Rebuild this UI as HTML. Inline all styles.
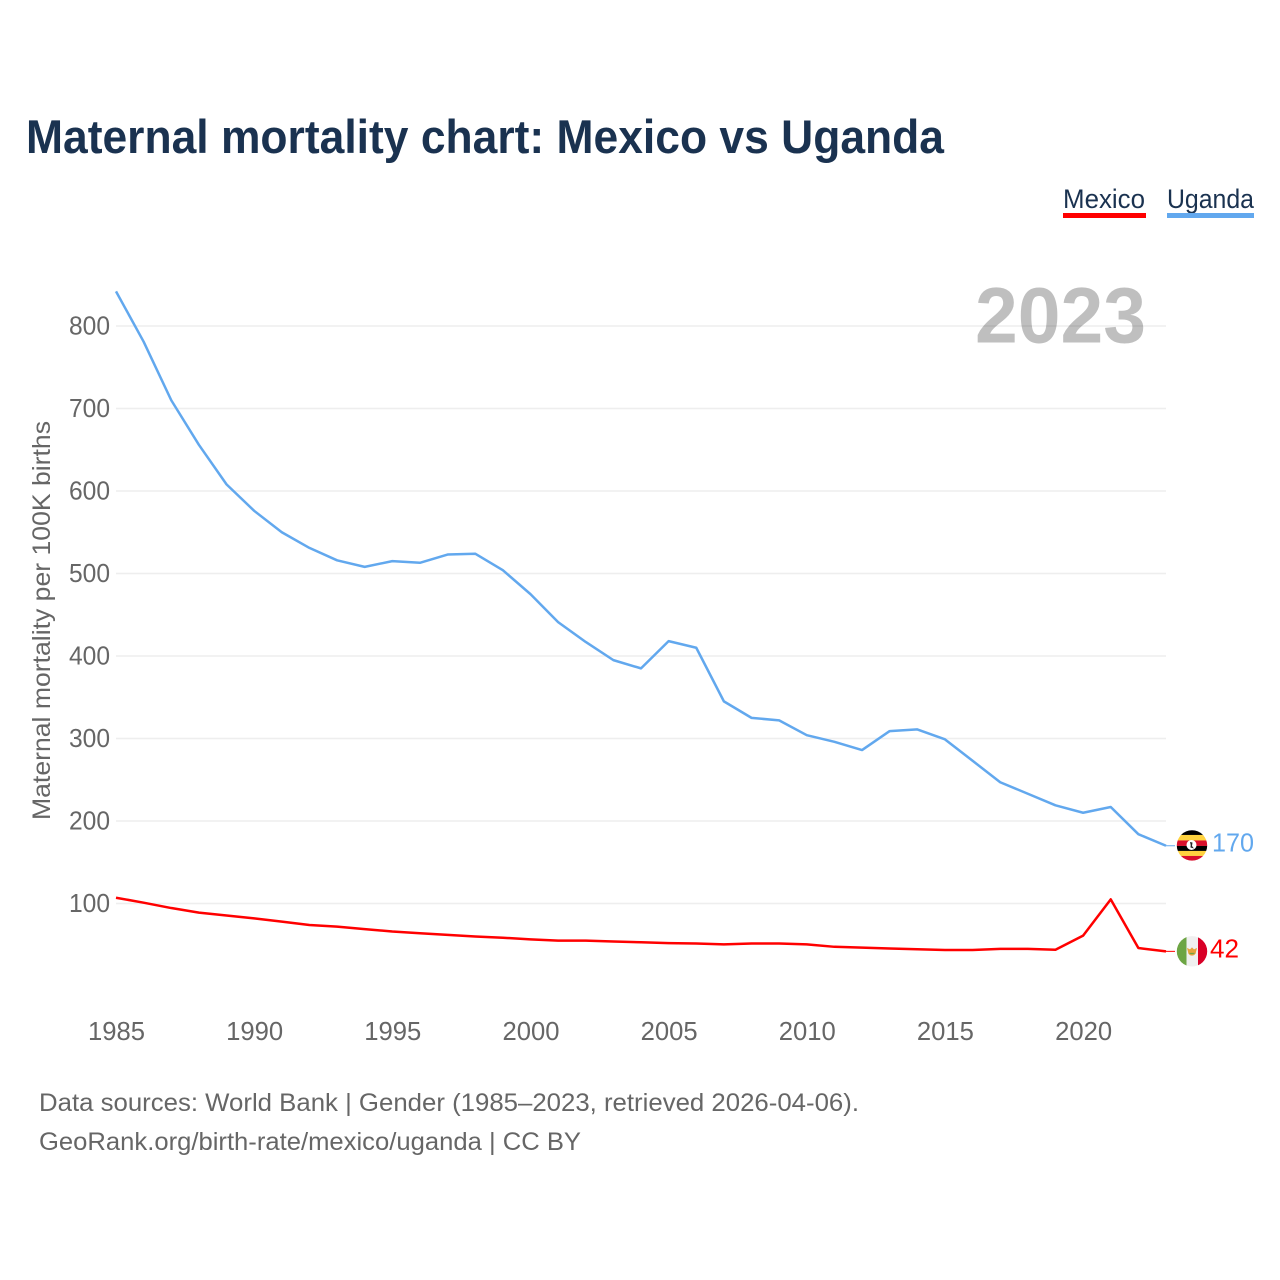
<!DOCTYPE html>
<html lang="en">
<head>
<meta charset="utf-8">
<title>Maternal mortality chart: Mexico vs Uganda</title>
<style>
html,body{margin:0;padding:0;background:#fff;}
svg{display:block;font-family:"Liberation Sans",Arial,sans-serif;}
</style>
</head>
<body>
<svg id="chart" xmlns="http://www.w3.org/2000/svg" width="1280" height="1280" viewBox="0 0 1280 1280">
  <defs>
    <clipPath id="clip-ug"><circle cx="0" cy="0" r="15.2"></circle></clipPath>
    <clipPath id="clip-mx"><circle cx="0" cy="0" r="15.2"></circle></clipPath>
  </defs>
  <rect x="0" y="0" width="1280" height="1280" fill="#ffffff"></rect>
  <text x="26" y="153" font-size="47" font-weight="700" fill="#1a3250" textLength="918" lengthAdjust="spacingAndGlyphs">Maternal mortality chart: Mexico vs Uganda</text>

  <g>
    <g>
      <text x="1063" y="208" font-size="27" fill="#1a3250" textLength="82" lengthAdjust="spacingAndGlyphs">Mexico</text>
      <rect x="1063" y="213" width="83" height="5" fill="#ff0000"></rect>
    </g>
    <g>
      <text x="1167" y="208" font-size="27" fill="#1a3250" textLength="87" lengthAdjust="spacingAndGlyphs">Uganda</text>
      <rect x="1167" y="213" width="87" height="5" fill="#62a8ee"></rect>
    </g>
  </g>

  <g id="grid"></g>
  <text x="975" y="342.5" font-size="79" font-weight="700" fill="#000000" fill-opacity="0.25" textLength="171" lengthAdjust="spacingAndGlyphs">2023</text>
  <g id="yticks"></g>
  <g id="xticks"></g>
  <text transform="translate(50,820) rotate(-90)" x="0" y="0" font-size="25" fill="#666666" textLength="399" lengthAdjust="spacingAndGlyphs">Maternal mortality per 100K births</text>

  <g id="series"></g>

  <g id="flag-uganda">
    <g clip-path="url(#clip-ug)">
      <rect x="-16" y="-16" width="32" height="6" fill="#000000"></rect>
      <rect x="-16" y="-10.5" width="32" height="5.5" fill="#ffd23f"></rect>
      <rect x="-16" y="-5" width="32" height="5.5" fill="#d90f2c"></rect>
      <rect x="-16" y="0.5" width="32" height="5" fill="#000000"></rect>
      <rect x="-16" y="5.5" width="32" height="5" fill="#ffd23f"></rect>
      <rect x="-16" y="10.5" width="32" height="5.5" fill="#d90f2c"></rect>
      <circle cx="-0.5" cy="-0.5" r="5" fill="#ffffff"></circle>
      <path d="M-2,-3.5 L0.5,-3 L0,0.5 L2,3 L-1.5,2 L-1.3,-0.5 Z" fill="#222222"></path>
    </g>
  </g>
  <g id="flag-mexico">
    <g clip-path="url(#clip-mx)">
      <rect x="-16" y="-16" width="10.5" height="32" fill="#6da544"></rect>
      <rect x="-5.5" y="-16" width="11.5" height="32" fill="#f0f0f0"></rect>
      <rect x="6" y="-16" width="10" height="32" fill="#d80027"></rect>
      <path d="M-5,-3.5 L-2,-2 L0,-4 L2,-2 L5,-3.5 L4,0.5 A4,3.8 0 0 1 -4,0.5 Z" fill="#e8a33d"></path>
      <path d="M-3,1.5 A3.4,2.6 0 0 0 3,1.5 Z" fill="#6da544"></path>
    </g>
  </g>
  <text id="value-uganda" x="1212" font-size="26" fill="#62a8ee" textLength="42" lengthAdjust="spacingAndGlyphs">170</text>
  <text id="value-mexico" x="1210" font-size="26" fill="#ff0000" textLength="29" lengthAdjust="spacingAndGlyphs">42</text>

  <g>
    <text x="39" y="1111" font-size="25" fill="#666666" textLength="820" lengthAdjust="spacingAndGlyphs">Data sources: World Bank | Gender (1985–2023, retrieved 2026-04-06).</text>
    <text x="39" y="1150" font-size="25" fill="#666666" textLength="542" lengthAdjust="spacingAndGlyphs">GeoRank.org/birth-rate/mexico/uganda | CC BY</text>
  </g>
</svg>
<script>
const years = [1985,1986,1987,1988,1989,1990,1991,1992,1993,1994,1995,1996,1997,1998,1999,2000,2001,2002,2003,2004,2005,2006,2007,2008,2009,2010,2011,2012,2013,2014,2015,2016,2017,2018,2019,2020,2021,2022,2023];
const ugandaValues = [842,781,710,656,608,576,550,531,516,508,515,513,523,524,504,475,441,417,395,385,418,410,345,325,322,304,296,286,309,311,299,273,247,233,219,210,217,184,170];
const mexicoValues = [107,101,94.5,89,85.5,82,78,74,72,69,66,64,62,60,58.5,56.5,55,55,54,53,52,51.5,50.5,51.5,51.5,50.5,47.5,46.5,45.5,44.5,43.7,43.7,45,45,44,61,105,46,42];
const yTicks = [100,200,300,400,500,600,700,800];
const xTicks = [1985,1990,1995,2000,2005,2010,2015,2020];

const NS = 'http://www.w3.org/2000/svg';
function xScale(year){ return 116 + (year - 1985) * (1166 - 116) / (2023 - 1985); }
function yScale(value){ return 986 - value * 0.825; }
function make(tag, parent, attrs){
  const el = document.createElementNS(NS, tag);
  for (const k in attrs) el.setAttribute(k, attrs[k]);
  parent.appendChild(el);
  return el;
}

const grid = document.getElementById('grid');
const yGroup = document.getElementById('yticks');
const xGroup = document.getElementById('xticks');
const seriesGroup = document.getElementById('series');

yTicks.forEach(function(v){
  const line = make('line', grid, {x1:116, x2:1166, y1:yScale(v), y2:yScale(v), stroke:'#eeeeee', 'stroke-width':1.4});
  
  
  const label = make('text', yGroup, {x:110, y:yScale(v)+8.5, 'font-size':25.5, fill:'#666666', 'text-anchor':'end', textLength:41, lengthAdjust:'spacingAndGlyphs'});
  label.textContent = String(v);
  
  
});

xTicks.forEach(function(y){
  const label = make('text', xGroup, {x:xScale(y)+0.5, y:1040, 'font-size':25.5, fill:'#666666', 'text-anchor':'middle', textLength:57, lengthAdjust:'spacingAndGlyphs'});
  label.textContent = String(y);
  
  
});

function drawSeries(values, color){
  const pts = values.map(function(v, i){ return xScale(years[i]).toFixed(2) + ',' + yScale(v).toFixed(2); }).join(' ');
  const line = make('polyline', seriesGroup, {points:pts, fill:'none', stroke:color, 'stroke-width':2.5, 'stroke-linejoin':'round'});
  
  
  const endY = yScale(values[values.length - 1]);
  const conn = make('line', seriesGroup, {x1:1166, x2:1175, y1:endY, y2:endY, stroke:color, 'stroke-width':1});
  
  
  return endY;
}

const ugEnd = drawSeries(ugandaValues, '#62a8ee');
const mxEnd = drawSeries(mexicoValues, '#ff0000');

document.getElementById('flag-uganda').setAttribute('transform', 'translate(1192,' + (ugEnd - 0.3) + ')');
document.getElementById('flag-mexico').setAttribute('transform', 'translate(1192,' + mxEnd + ')');
const ugText = document.getElementById('value-uganda');
ugText.setAttribute('y', ugEnd + 5.8);
ugText.textContent = String(ugandaValues[ugandaValues.length - 1]);
const mxText = document.getElementById('value-mexico');
mxText.setAttribute('y', mxEnd + 6.2);
mxText.textContent = String(mexicoValues[mexicoValues.length - 1]);
</script>
</body>
</html>
